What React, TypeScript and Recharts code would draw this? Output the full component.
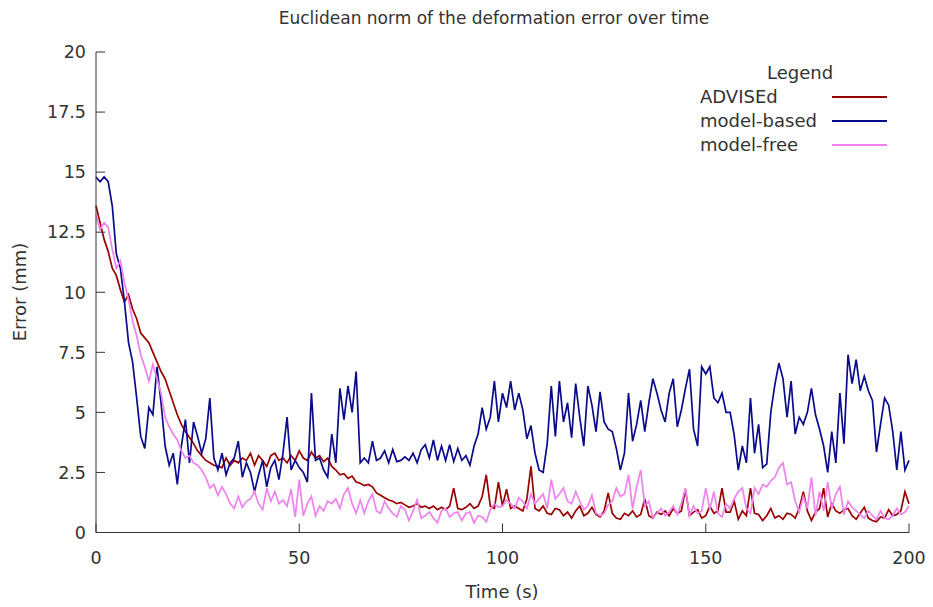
import React from 'react';
import { LineChart, Line, XAxis, YAxis } from 'recharts';

// one sample per second, t = 0 .. 200 s
const advised = [
  13.6, 12.9, 12.2, 11.7, 11.0, 10.7, 10.1, 9.6, 9.9, 9.3,
  8.9, 8.3, 8.1, 7.9, 7.5, 7.1, 6.7, 6.4, 5.9, 5.4,
  4.9, 4.5, 4.2, 3.95, 3.7, 3.4, 3.2, 3.0, 2.9, 2.8,
  2.75, 2.7, 3.1, 2.8, 3.0, 2.9, 3.1, 3.0, 3.3, 2.8,
  3.2, 3.0, 2.75, 3.2, 3.3, 3.0, 3.1, 2.9, 3.2, 3.0,
  3.4, 3.1, 3.0, 3.35, 3.1, 3.2, 2.95, 3.1, 2.75, 2.6,
  2.4, 2.45, 2.25, 2.35, 2.1, 2.05, 1.95, 2.0, 1.9, 1.65,
  1.55, 1.45, 1.35, 1.3, 1.2, 1.25, 1.15, 1.05, 1.1, 1.2,
  1.05, 1.1, 1.0, 1.1, 0.95, 1.05, 0.95, 1.1, 1.85, 1.0,
  0.95, 1.05, 1.2, 1.0, 1.1, 1.5, 2.4, 1.1, 1.0, 2.1,
  1.1, 1.8, 1.0, 1.1, 1.0, 0.9, 1.4, 2.75, 1.0, 0.9,
  1.1, 0.8, 0.75, 1.0, 0.95, 0.7, 0.85, 0.6, 0.9, 1.1,
  0.7, 0.8, 1.05, 0.75, 0.65, 0.9, 1.65, 0.8, 0.6, 0.55,
  0.8, 0.7, 0.9, 0.65, 0.75, 1.4, 0.7, 0.6, 0.85, 0.75,
  0.9, 0.7, 1.0, 0.8, 0.9, 1.8, 0.7, 0.85, 0.95, 0.6,
  0.7, 1.1, 0.8, 0.9, 1.85, 0.85, 0.85, 1.3, 0.55, 0.9,
  0.7, 1.85, 0.8, 0.75, 0.5, 0.7, 1.0, 0.6, 0.7, 0.55,
  0.8, 0.75, 0.6, 1.0, 1.7, 0.9, 0.5, 0.85, 1.0, 1.85,
  0.65, 1.2, 0.9, 0.8, 0.95, 1.0, 0.7, 0.55, 0.8, 1.05,
  0.6, 0.5, 0.45, 0.65, 0.6, 0.95, 0.7, 0.75, 0.9, 1.7,
  1.2,
];

const modelBased = [
  14.8, 14.6, 14.8, 14.6, 13.6, 11.6, 11.0, 9.6, 7.9, 7.1,
  5.6, 4.0, 3.5, 5.2, 4.9, 6.9, 5.4, 3.6, 2.8, 3.3,
  2.0, 3.6, 4.7, 2.9, 4.6, 4.0, 3.3, 3.9, 5.6, 3.1,
  2.6, 3.3, 2.4, 2.9, 3.1, 3.8, 2.3, 2.9, 2.5, 1.7,
  2.4, 3.0, 1.9, 2.7, 3.0, 2.2, 3.3, 4.8, 2.6, 3.0,
  2.7, 2.5, 2.1, 5.8, 3.0, 3.1, 2.6, 2.3, 4.1, 2.9,
  6.0, 4.7, 6.1, 5.0, 6.7, 2.9, 3.1, 2.9, 3.8, 3.0,
  3.1, 3.4, 2.9, 3.45, 2.95, 3.0, 3.15, 3.0, 3.3, 2.9,
  3.45, 3.65, 3.1, 3.85, 3.0, 3.6, 3.0, 3.65, 2.95, 3.5,
  3.0, 3.2, 2.8, 3.6, 4.1, 5.2, 4.3, 4.8, 6.3, 4.6,
  5.8, 5.2, 6.3, 5.1, 5.8, 5.1, 3.9, 4.45, 3.3, 2.6,
  2.5, 3.7, 6.1, 4.0, 6.3, 4.6, 5.4, 3.95, 6.2, 4.8,
  3.6, 6.1, 5.3, 4.2, 5.85, 4.6, 4.3, 4.2, 3.5, 2.6,
  3.3, 5.8, 3.8, 4.5, 5.5, 4.2, 5.4, 6.4, 5.8, 5.1,
  4.6, 5.8, 6.4, 4.4, 5.1, 6.0, 6.8, 4.3, 3.6, 6.9,
  6.6, 6.9, 5.6, 5.4, 5.8, 5.0, 5.0, 4.05, 2.6, 3.6,
  2.9, 5.6, 3.3, 4.5, 2.7, 2.85, 5.0, 6.15, 7.05, 6.4,
  4.8, 6.3, 4.1, 4.8, 4.5, 5.0, 6.0, 4.9, 4.3, 3.6,
  2.5, 4.2, 2.9, 5.8, 3.7, 7.4, 6.2, 7.2, 5.9, 6.5,
  5.9, 5.5, 3.35, 4.5, 5.6, 5.3, 4.2, 2.6, 4.2, 2.6,
  3.0,
];

const modelFree = [
  13.2, 12.6, 12.9, 12.7, 11.8, 11.0, 11.3, 10.4, 9.7, 8.8,
  8.2, 7.4, 6.9, 6.3, 7.0, 6.4, 5.8, 4.8, 4.4, 4.1,
  3.85, 3.4, 3.1, 3.2, 2.9, 2.8, 2.6, 2.3, 1.85, 2.0,
  1.55, 1.9, 1.6, 1.2, 1.0, 1.5, 1.05, 1.3, 1.4, 1.7,
  1.2, 0.95, 1.85, 1.3, 1.7, 1.2, 1.35, 1.1, 1.8, 0.65,
  2.2, 0.7, 1.2, 1.5, 0.7, 1.1, 0.9, 1.3, 1.2, 1.4,
  1.0, 1.6, 1.85, 1.2, 0.8, 1.35, 0.8, 1.3, 1.6, 0.9,
  0.8, 1.3, 1.0, 0.8, 0.65, 1.1, 0.95, 0.5, 0.9, 1.35,
  0.6, 0.7, 0.85, 0.6, 0.4, 0.9, 1.0, 0.65, 0.8, 0.85,
  0.5, 0.8, 0.85, 0.4, 0.7, 0.65, 0.45, 0.95, 1.2, 1.05,
  1.1, 1.35, 1.2, 1.0, 1.45, 1.3, 1.0, 1.6, 1.2, 1.4,
  1.6, 1.0, 2.2, 1.4, 1.6, 1.85, 1.3, 1.2, 1.7, 1.3,
  0.95, 1.1, 1.55, 0.8, 0.7, 0.8, 1.15, 1.3, 1.85, 1.5,
  1.6, 2.4, 1.0, 1.9, 2.6, 1.1, 1.3, 0.6, 0.8, 1.0,
  0.7, 0.85, 1.1, 0.75, 1.2, 1.85, 0.7, 1.1, 0.8, 0.9,
  1.85, 0.95, 1.7, 0.8, 0.65, 1.2, 1.0, 1.4, 1.7, 1.85,
  1.0, 0.8, 1.85, 1.6, 2.0, 1.9, 2.15, 2.3, 2.7, 2.9,
  2.0, 2.1, 1.3, 0.85, 1.5, 1.0, 2.3, 0.7, 1.7, 0.9,
  2.1, 1.0, 1.6, 1.9, 0.75, 1.3, 1.05, 0.9, 0.75, 0.6,
  0.9, 0.7, 0.55, 0.9, 0.6, 0.55, 0.7, 1.0, 0.75, 0.85,
  1.1,
];

const xTicks = [0, 50, 100, 150, 200];
const yTicks = [0, 2.5, 5, 7.5, 10, 12.5, 15, 17.5, 20];

const series = [
  { key: 'advised', name: 'ADVISEd', color: '#990000' },
  { key: 'modelBased', name: 'model-based', color: '#0a0a8c' },
  { key: 'modelFree', name: 'model-free', color: '#ee82ee' },
];

const data = advised.map((v, i) => ({
  t: i,
  advised: v,
  modelBased: modelBased[i],
  modelFree: modelFree[i],
}));

const FONT = '"DejaVu Sans", Verdana, sans-serif';
const AXIS = '#333';
const TEXT = '#333';
const TICK_LEN = 9;

const LeftTick = ({ x, y, payload }: any) => (
  <g>
    <line x1={x + 10} y1={y} x2={x + 10 + TICK_LEN} y2={y} stroke={AXIS} />
    <text x={x} y={y} dy="0.36em" textAnchor="end" fontSize={17.5} fill={TEXT} fontFamily={FONT}>
      {payload.value}
    </text>
  </g>
);

const RightTick = ({ x, y }: any) => (
  <line x1={x} y1={y} x2={x - TICK_LEN} y2={y} stroke={AXIS} />
);

const BottomTick = ({ x, y, payload }: any) => (
  <g>
    <line x1={x} y1={y - 25} x2={x} y2={y - 25 - TICK_LEN} stroke={AXIS} />
    <text x={x} y={y} dy="0.36em" textAnchor="middle" fontSize={17.5} fill={TEXT} fontFamily={FONT}>
      {payload.value}
    </text>
  </g>
);

const TopTick = ({ x, y }: any) => (
  <line x1={x} y1={y} x2={x} y2={y + TICK_LEN} stroke={AXIS} />
);

const ChartLegend = () => (
  <div
    style={{
      position: 'absolute', left: 700, top: 61, width: 190,
      fontFamily: FONT, fontSize: 18, color: TEXT, lineHeight: '24px',
    }}
  >
    <div style={{ textAlign: 'center', paddingLeft: 10, height: 24 }}>Legend</div>
    {series.map((s) => (
      <div key={s.key} style={{ display: 'flex', alignItems: 'center', height: 24 }}>
        <span style={{ width: 132 }}>{s.name}</span>
        <span style={{ width: 55, height: 0, borderTop: `2px solid ${s.color}` }} />
      </div>
    ))}
  </div>
);

export default function App() {
  return (
    <div style={{ position: 'absolute', left: 0, top: 0, width: 933, height: 607, background: '#fff' }}>
      <div
        style={{
          position: 'absolute', left: 0, width: 988, top: 7, textAlign: 'center',
          fontFamily: FONT, fontSize: 17, lineHeight: '22px', color: TEXT,
        }}
      >
        Euclidean norm of the deformation error over time
      </div>
      <div
        style={{
          position: 'absolute', left: 502, top: 581, transform: 'translateX(-50%)',
          fontFamily: FONT, fontSize: 18, lineHeight: '22px', color: TEXT, whiteSpace: 'nowrap',
        }}
      >
        Time (s)
      </div>
      <div
        style={{
          position: 'absolute', left: 20, top: 292, transform: 'translate(-50%, -50%) rotate(-90deg)',
          fontFamily: FONT, fontSize: 18, lineHeight: '22px', color: TEXT, whiteSpace: 'nowrap',
        }}
      >
        Error (mm)
      </div>
      <LineChart width={933} height={607} data={data} margin={{ top: 52, right: 24, bottom: 0, left: 0 }}>
        <XAxis
          xAxisId="b"
          dataKey="t"
          type="number"
          domain={[0, 200]}
          ticks={xTicks}
          height={74.5}
          tickSize={0}
          tickMargin={25}
          tickLine={false}
          tick={<BottomTick />}
          axisLine={{ stroke: AXIS }}
        />
        <XAxis
          xAxisId="t"
          orientation="top"
          dataKey="t"
          type="number"
          domain={[0, 200]}
          ticks={xTicks}
          height={0}
          tickSize={0}
          tickMargin={0}
          tickLine={false}
          tick={<TopTick />}
          axisLine={{ stroke: AXIS }}
        />
        <YAxis
          yAxisId="l"
          type="number"
          domain={[0, 20]}
          ticks={yTicks}
          width={96}
          tickSize={0}
          tickMargin={10}
          tickLine={false}
          tick={<LeftTick />}
          axisLine={{ stroke: AXIS }}
        />
        <YAxis
          yAxisId="r"
          orientation="right"
          type="number"
          domain={[0, 20]}
          ticks={yTicks}
          width={0}
          tickSize={0}
          tickMargin={0}
          tickLine={false}
          tick={<RightTick />}
          axisLine={{ stroke: AXIS }}
        />
        {series.map((s) => (
          <Line
            key={s.key}
            xAxisId="b"
            yAxisId="l"
            type="linear"
            dataKey={s.key}
            name={s.name}
            stroke={s.color}
            strokeWidth={1.7}
            dot={false}
            isAnimationActive={false}
          />
        ))}
      </LineChart>
      <ChartLegend />
    </div>
  );
}
